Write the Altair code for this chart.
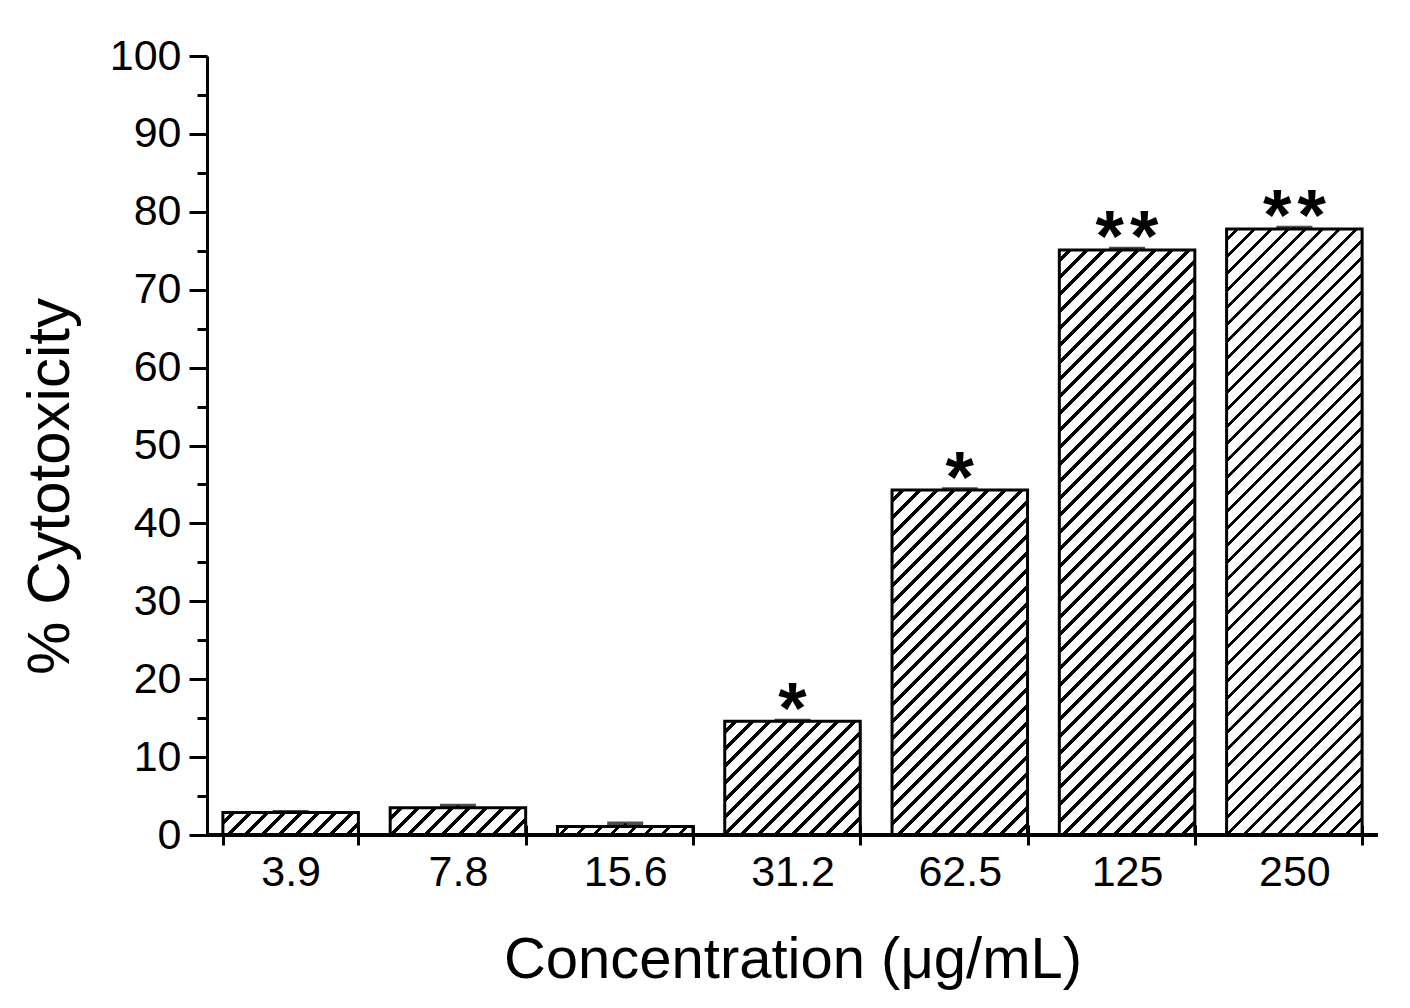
import altair as alt
import pandas as pd

concentrations = ["3.9", "7.8", "15.6", "31.2", "62.5", "125", "250"]
cytotoxicity = [2.9, 3.5, 1.1, 14.6, 44.3, 75.1, 77.8]
errors = [0.1, 0.3, 0.4, 0.1, 0.1, 0.2, 0.2]
stars = ["", "", "", "*", "*", "*\u200a*", "*\u200a*"]

df = pd.DataFrame({
    "conc": concentrations,
    "value": cytotoxicity,
    "err": errors,
    "stars": stars,
})
df["top"] = df["value"] + df["err"]

FONT = "Liberation Sans"
W, H = 1171, 779
PAD_INNER = 0.19
step = W / len(concentrations)
bw = step * (1 - PAD_INNER)

x_axis = alt.Axis(
    title="Concentration (μg/mL)", labelAngle=0, offset=-10, tickSize=20, tickWidth=3,
    tickColor="black", domain=False, tickBand="extent", labelFontSize=43, labelFont=FONT,
    labelColor="black", labelPadding=6, titleFontSize=58, titleFont=FONT,
    titleFontWeight="normal", titleColor="black", titleY=152, titleBaseline="alphabetic",
    grid=False,
)
x_scale = alt.Scale(paddingInner=PAD_INNER, paddingOuter=PAD_INNER / 2)
x_enc = alt.X("conc:N", sort=concentrations, scale=x_scale, axis=x_axis)

y_axis = alt.Axis(
    title="% Cytotoxicity", values=list(range(0, 101, 5)),
    labelExpr="datum.value % 10 == 0 ? datum.label : ''",
    tickSize={"condition": {"test": "datum.value % 10 == 0", "value": 18}, "value": 10},
    tickWidth=3, tickColor="black", domainWidth=3, domainColor="black",
    labelFontSize=43, labelFont=FONT, labelColor="black", labelPadding=8, labelOverlap=False,
    titleX=-139, titleY=430, titleAngle=270, titleAlign="center", titleBaseline="alphabetic",
    titleFontSize=60, titleFont=FONT, titleFontWeight="normal", titleColor="black", grid=False,
)
y_scale = alt.Scale(domain=[0, 100], nice=False)


def hatch(v):
    h = max(v / 100 * H, 0.5)
    L = bw + h
    P = 17.0
    b = 4.6
    stops = [alt.GradientStop(offset=0, color="white")]
    s = P / 2
    while s < L:
        e = min(s + b, L)
        o1 = round(s / L, 5)
        o2 = round(e / L, 5)
        stops += [
            alt.GradientStop(offset=o1, color="white"),
            alt.GradientStop(offset=o1, color="black"),
            alt.GradientStop(offset=o2, color="black"),
            alt.GradientStop(offset=o2, color="white"),
        ]
        s += P
    stops.append(alt.GradientStop(offset=1, color="white"))
    a = bw * (bw + h) / (bw ** 2 + h ** 2)
    return alt.LinearGradient(gradient="linear", x1=0, y1=0, x2=a, y2=a * h / bw, stops=stops)


base = alt.Chart(df)
layers = []
for c, v in zip(concentrations, cytotoxicity):
    layers.append(
        base.transform_filter(alt.datum.conc == c)
        .mark_bar(fill=hatch(v), stroke="black", strokeWidth=3)
        .encode(x=x_enc, y=alt.Y("value:Q", scale=y_scale, axis=y_axis))
    )

zero_line = base.mark_rule(color="black", strokeWidth=3).encode(
    y=alt.YDatum(0, scale=y_scale, axis=y_axis)
)

stems = base.mark_rule(color="black", strokeWidth=3).encode(
    x=x_enc, y=alt.Y("value:Q", scale=y_scale, axis=y_axis), y2="top:Q"
)
caps = base.mark_tick(color="black", size=36, thickness=3.5).encode(
    x=x_enc, y=alt.Y("top:Q", scale=y_scale, axis=y_axis)
)
labels = base.mark_text(
    font=FONT, fontSize=73, fontWeight="bold", baseline="alphabetic", dy=13, color="black"
).encode(x=x_enc, y=alt.Y("top:Q", scale=y_scale, axis=y_axis), text="stars:N")

chart = alt.layer(*layers, stems, caps, zero_line, labels).properties(
    width=W, height=H,
    autosize=alt.AutoSizeParams(type="none"),
    padding={"left": 199, "top": 48, "right": 24, "bottom": 165},
    background="white",
).configure_view(stroke=None)

chart.save("out.html", embed_options={"renderer": "svg", "actions": False})
